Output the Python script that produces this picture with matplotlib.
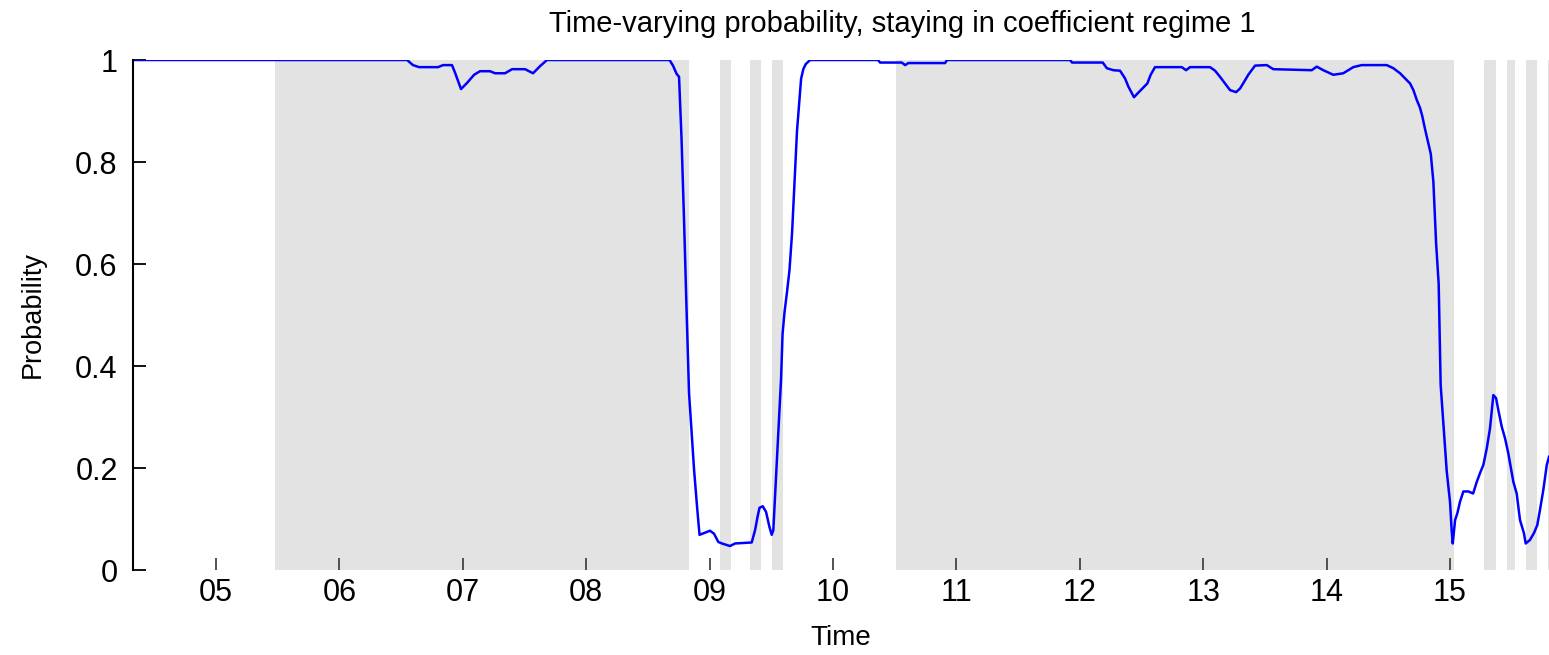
import numpy as np
import matplotlib
matplotlib.use("Agg")
from matplotlib import pyplot as plt

# time (years) and probability of staying in regime 1
t = [2004.327, 2006.548, 2006.596, 2006.645, 2006.799, 2006.840, 2006.912, 2006.937,
     2006.985, 2007.034, 2007.091, 2007.139, 2007.220, 2007.261, 2007.342, 2007.399,
     2007.504, 2007.569, 2007.626, 2007.682, 2008.675, 2008.703, 2008.732, 2008.752,
     2008.772, 2008.793, 2008.813, 2008.833, 2008.853, 2008.874, 2008.898, 2008.918,
     2008.971, 2009.003, 2009.036, 2009.070, 2009.100, 2009.165, 2009.206, 2009.341,
     2009.368, 2009.388, 2009.404, 2009.430, 2009.457, 2009.484, 2009.503, 2009.516,
     2009.538, 2009.558, 2009.579, 2009.591, 2009.607, 2009.627, 2009.647, 2009.668,
     2009.688, 2009.708, 2009.741, 2009.759, 2009.779, 2009.814, 2010.365, 2010.381,
     2010.557, 2010.584, 2010.610, 2010.908, 2010.924, 2011.921, 2011.937, 2012.186,
     2012.218, 2012.272, 2012.326, 2012.366, 2012.393, 2012.439, 2012.474, 2012.515,
     2012.547, 2012.574, 2012.609, 2012.826, 2012.861, 2012.893, 2013.055, 2013.096,
     2013.136, 2013.177, 2013.217, 2013.266, 2013.298, 2013.331, 2013.365, 2013.420,
     2013.515, 2013.568, 2013.879, 2013.920, 2013.973, 2014.054, 2014.135, 2014.216,
     2014.284, 2014.487, 2014.540, 2014.595, 2014.635, 2014.676, 2014.703, 2014.730,
     2014.757, 2014.775, 2014.797, 2014.824, 2014.844, 2014.865, 2014.887, 2014.908,
     2014.924, 2014.954, 2014.973, 2015.000, 2015.013, 2015.022, 2015.041, 2015.059,
     2015.081, 2015.108, 2015.149, 2015.187, 2015.217, 2015.243, 2015.270, 2015.298,
     2015.324, 2015.351, 2015.373, 2015.391, 2015.419, 2015.446, 2015.472, 2015.513,
     2015.540, 2015.567, 2015.599, 2015.613, 2015.648, 2015.681, 2015.707, 2015.729,
     2015.756, 2015.784, 2015.802]

prob = [1.000, 1.000, 0.990, 0.986, 0.986, 0.990, 0.990, 0.975,
        0.943, 0.955, 0.971, 0.978, 0.978, 0.974, 0.974, 0.982,
        0.982, 0.974, 0.988, 1.000, 1.000, 0.989, 0.973, 0.967,
        0.847, 0.682, 0.510, 0.347, 0.273, 0.196, 0.124, 0.069,
        0.074, 0.077, 0.071, 0.055, 0.052, 0.047, 0.052, 0.054,
        0.078, 0.104, 0.122, 0.125, 0.114, 0.085, 0.069, 0.078,
        0.182, 0.276, 0.376, 0.463, 0.506, 0.545, 0.588, 0.661,
        0.763, 0.861, 0.963, 0.982, 0.992, 1.000, 1.000, 0.995,
        0.995, 0.990, 0.994, 0.994, 1.000, 1.000, 0.995, 0.995,
        0.984, 0.980, 0.979, 0.964, 0.948, 0.927, 0.936, 0.946,
        0.954, 0.971, 0.986, 0.986, 0.980, 0.986, 0.986, 0.979,
        0.967, 0.954, 0.941, 0.937, 0.944, 0.957, 0.971, 0.989,
        0.990, 0.982, 0.980, 0.987, 0.980, 0.971, 0.974, 0.986,
        0.990, 0.990, 0.984, 0.974, 0.964, 0.954, 0.941, 0.922,
        0.906, 0.890, 0.865, 0.837, 0.816, 0.761, 0.641, 0.561,
        0.363, 0.259, 0.194, 0.133, 0.078, 0.052, 0.098, 0.111,
        0.134, 0.154, 0.154, 0.150, 0.173, 0.190, 0.206, 0.239,
        0.278, 0.343, 0.337, 0.314, 0.281, 0.258, 0.229, 0.173,
        0.150, 0.098, 0.072, 0.052, 0.059, 0.073, 0.088, 0.118,
        0.157, 0.206, 0.222]

# shaded periods (start, end)
band_start = [2005.478, 2009.084, 2009.327, 2009.506, 2010.511, 2015.275, 2015.462, 2015.616, 2015.794]
band_end = [2008.833, 2009.173, 2009.417, 2009.595, 2015.032, 2015.373, 2015.527, 2015.705, 2015.900]

tick_years = [2005, 2006, 2007, 2008, 2009, 2010, 2011, 2012, 2013, 2014, 2015]
tick_labels = ["05", "06", "07", "08", "09", "10", "11", "12", "13", "14", "15"]
ytick_vals = [0, 0.2, 0.4, 0.6, 0.8, 1]
ytick_labels = ["0", "0.2", "0.4", "0.6", "0.8", "1"]

plt.rcParams["font.family"] = ["Liberation Sans", "DejaVu Sans"]

fig = plt.figure(figsize=(15.49, 6.55), dpi=100)
ax = fig.add_axes([133 / 1549, 1 - 570 / 655, 1 - 133 / 1549, (570 - 60) / 655])

for s, e in zip(band_start, band_end):
    ax.axvspan(s, e, color="#e3e3e3", lw=0, zorder=0)

ax.plot(t, prob, color="#0000ff", lw=1.8, zorder=3)

ax.set_xlim(2004.327, 2015.802)
ax.set_ylim(0, 1)
ax.set_xticks(tick_years)
ax.set_xticklabels(tick_labels)
ax.set_yticks(ytick_vals)
ax.set_yticklabels(ytick_labels)

for side in ["top", "right", "bottom"]:
    ax.spines[side].set_visible(False)
ax.spines["left"].set_linewidth(1.5)
ax.spines["left"].set_zorder(4)

ax.tick_params(axis="x", direction="in", length=9, width=1.3, color="#444444",
               labelsize=22, pad=6)
ax.tick_params(axis="y", direction="in", length=9, width=1.3, color="black",
               labelsize=22, pad=11)

ax.set_title("Time-varying probability, staying in coefficient regime 1",
             fontsize=21, x=0.543, pad=20)
ax.set_xlabel("Time", fontsize=20, labelpad=12)
ax.set_ylabel("Probability", fontsize=19.5, labelpad=21)

fig.savefig("out.png", dpi=100)
